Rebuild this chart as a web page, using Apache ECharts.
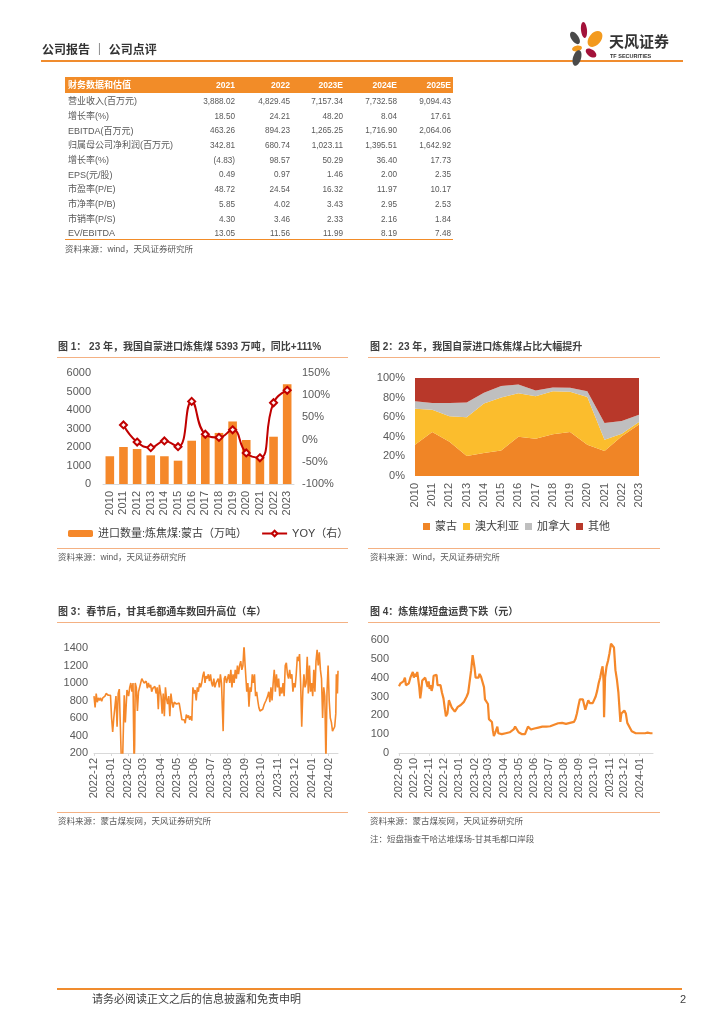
<!DOCTYPE html>
<html><head><meta charset="utf-8">
<script src="https://cdn.jsdelivr.net/npm/echarts@6/dist/echarts.min.js"></script>
<style>html,body{margin:0;padding:0;background:#fff}#c{width:724px;height:1024px}</style>
</head><body><div id="c"></div><script>
// ---------- DATA ----------
const tableYears = ['2021','2022','2023E','2024E','2025E'];
const tableLabels = ['营业收入(百万元)','增长率(%)','EBITDA(百万元)','归属母公司净利润(百万元)','增长率(%)','EPS(元/股)','市盈率(P/E)','市净率(P/B)','市销率(P/S)','EV/EBITDA'];
const rowRevenue = ['3,888.02','4,829.45','7,157.34','7,732.58','9,094.43'];
const rowRevGrowth = ['18.50','24.21','48.20','8.04','17.61'];
const rowEbitda = ['463.26','894.23','1,265.25','1,716.90','2,064.06'];
const rowNetProfit = ['342.81','680.74','1,023.11','1,395.51','1,642.92'];
const rowNpGrowth = ['(4.83)','98.57','50.29','36.40','17.73'];
const rowEps = ['0.49','0.97','1.46','2.00','2.35'];
const rowPE = ['48.72','24.54','16.32','11.97','10.17'];
const rowPB = ['5.85','4.02','3.43','2.95','2.53'];
const rowPS = ['4.30','3.46','2.33','2.16','1.84'];
const rowEvEbitda = ['13.05','11.56','11.99','8.19','7.48'];

const years = ['2010','2011','2012','2013','2014','2015','2016','2017','2018','2019','2020','2021','2022','2023'];
const importVolume = [1500,2000,1890,1550,1500,1260,2340,2620,2760,3380,2380,1400,2556,5393];
const importYoy = [null,33,-5.5,-18,-3,-16,86,12,5,22,-30,-41,83,111];

const shareMongolia = [32,45,35,20.5,23.5,26,40,38,42.5,45,32,25.5,40.5,52.5];
const shareAustralia = [36.5,22.5,26,39.5,50.5,54,44.5,43.5,44,41,48.5,11.5,2.7,2.6];
const shareCanada = [7.8,7.1,13.6,14.9,11,11.8,8.8,5.8,3.7,4.1,6.1,17,12.8,7.5];
const shareOther = [23.7,25.4,25.4,25.1,15,8.2,6.7,12.7,9.8,9.9,13.4,46,44,37.4];

const gqmdTrucks = [
['2022-12-01',850],['2022-12-03',720],['2022-12-05',880],['2022-12-07',780],['2022-12-09',830],['2022-12-11',800],['2022-12-13',830],['2022-12-15',790],['2022-12-17',830],['2022-12-19',810],['2022-12-21',850],['2022-12-23',880],['2022-12-25',870],['2022-12-27',860],['2022-12-29',850],['2022-12-31',860],
['2023-01-02',600],['2023-01-04',440],['2023-01-06',600],['2023-01-08',580],['2023-01-10',850],['2023-01-12',500],['2023-01-14',880],['2023-01-16',930],['2023-01-18',500],['2023-01-20',60],['2023-01-22',100],['2023-01-25',860],['2023-01-27',550],['2023-01-30',920],
['2023-02-02',850],['2023-02-04',950],['2023-02-06',1000],['2023-02-08',900],['2023-02-10',1000],['2023-02-11',500],['2023-02-12',50],['2023-02-13',300],['2023-02-14',1000],['2023-02-16',950],['2023-02-18',680],['2023-02-20',900],['2023-02-22',950],['2023-02-24',1000],['2023-02-26',1050],['2023-02-28',1060],
['2023-03-02',1000],['2023-03-04',980],['2023-03-06',1020],['2023-03-08',940],['2023-03-10',1000],['2023-03-12',950],['2023-03-14',980],['2023-03-16',900],['2023-03-18',940],['2023-03-20',920],['2023-03-22',960],['2023-03-24',880],['2023-03-26',950],['2023-03-28',700],['2023-03-30',980],
['2023-04-02',850],['2023-04-04',650],['2023-04-06',880],['2023-04-08',620],['2023-04-10',950],['2023-04-12',820],['2023-04-14',760],['2023-04-16',850],['2023-04-18',620],['2023-04-20',880],['2023-04-22',780],['2023-04-24',720],['2023-04-26',780],['2023-04-28',770],['2023-04-30',760],
['2023-05-02',780],['2023-05-05',770],['2023-05-08',760],['2023-05-10',580],['2023-05-12',560],['2023-05-14',580],['2023-05-16',540],['2023-05-18',640],['2023-05-20',600],['2023-05-22',630],['2023-05-24',580],['2023-05-26',620],['2023-05-28',570],['2023-05-30',950],
['2023-06-01',880],['2023-06-03',920],['2023-06-05',800],['2023-06-07',950],['2023-06-09',900],['2023-06-11',1000],['2023-06-13',950],['2023-06-15',1000],['2023-06-17',1080],['2023-06-19',1130],['2023-06-21',1000],['2023-06-23',1080],['2023-06-25',1050],['2023-06-27',1100],['2023-06-29',1020],
['2023-07-01',1100],['2023-07-03',1000],['2023-07-05',960],['2023-07-07',1050],['2023-07-09',950],['2023-07-11',1000],['2023-07-13',980],['2023-07-15',1050],['2023-07-17',950],['2023-07-19',1100],['2023-07-21',1000],['2023-07-23',1000],['2023-07-24',450],['2023-07-26',1050],['2023-07-28',1080],['2023-07-30',1000],
['2023-08-01',1000],['2023-08-03',1100],['2023-08-05',1000],['2023-08-07',1150],['2023-08-09',950],['2023-08-11',1100],['2023-08-13',1000],['2023-08-15',1150],['2023-08-17',1050],['2023-08-19',1200],['2023-08-21',1100],['2023-08-23',1200],['2023-08-25',1250],['2023-08-27',1150],['2023-08-29',1200],['2023-08-31',1430],
['2023-09-02',1200],['2023-09-04',1000],['2023-09-05',900],['2023-09-07',1000],['2023-09-09',730],['2023-09-11',950],['2023-09-13',900],['2023-09-15',1100],['2023-09-17',1000],['2023-09-19',1100],['2023-09-21',850],['2023-09-23',900],['2023-09-25',800],['2023-09-27',720],['2023-09-29',680],
['2023-10-01',660],['2023-10-04',700],['2023-10-07',760],['2023-10-10',800],['2023-10-13',850],['2023-10-15',900],['2023-10-17',780],['2023-10-19',950],['2023-10-21',800],['2023-10-23',1000],['2023-10-25',1150],['2023-10-27',900],['2023-10-29',1100],['2023-10-31',950],
['2023-11-02',1050],['2023-11-04',850],['2023-11-06',950],['2023-11-08',880],['2023-11-10',1000],['2023-11-12',850],['2023-11-14',1200],['2023-11-16',1230],['2023-11-18',1100],['2023-11-20',1050],['2023-11-22',1150],['2023-11-24',1050],['2023-11-26',1100],['2023-11-28',900],['2023-11-30',1000],
['2023-12-02',950],['2023-12-04',1100],['2023-12-06',1300],['2023-12-08',1250],['2023-12-10',1330],['2023-12-12',1000],['2023-12-14',500],['2023-12-16',900],['2023-12-18',1100],['2023-12-20',950],['2023-12-22',1000],['2023-12-24',1300],['2023-12-26',880],['2023-12-28',1200],['2023-12-30',900],
['2024-01-01',1000],['2024-01-03',850],['2024-01-05',1150],['2024-01-07',900],['2024-01-09',1250],['2024-01-11',1380],['2024-01-13',1200],['2024-01-15',1350],['2024-01-17',1150],['2024-01-19',1050],['2024-01-21',600],['2024-01-23',950],['2024-01-25',850],['2024-01-27',100],['2024-01-29',900],['2024-01-31',1200],
['2024-02-02',800],['2024-02-04',600],['2024-02-06',550],['2024-02-08',450],['2024-02-10',430],['2024-02-12',500],['2024-02-14',650],['2024-02-15',1100],['2024-02-17',880],['2024-02-18',1140]
];

const shortHaulFreight = [
['2022-09-01',355],['2022-09-04',370],['2022-09-07',365],['2022-09-10',380],['2022-09-13',400],['2022-09-15',360],['2022-09-18',350],['2022-09-21',370],['2022-09-24',400],['2022-09-27',395],['2022-09-29',430],
['2022-10-01',400],['2022-10-03',420],['2022-10-05',405],['2022-10-08',430],['2022-10-10',420],['2022-10-12',350],['2022-10-14',290],['2022-10-16',330],['2022-10-18',385],['2022-10-21',395],['2022-10-24',400],['2022-10-27',395],['2022-10-29',350],['2022-10-31',380],
['2022-11-02',340],['2022-11-04',360],['2022-11-06',330],['2022-11-08',350],['2022-11-10',410],['2022-11-13',420],['2022-11-16',415],['2022-11-18',360],['2022-11-21',350],['2022-11-24',360],['2022-11-27',320],['2022-11-30',290],
['2022-12-03',230],['2022-12-05',195],['2022-12-08',210],['2022-12-11',280],['2022-12-14',280],['2022-12-17',240],['2022-12-20',230],['2022-12-23',220],['2022-12-26',230],['2022-12-29',245],
['2023-01-01',245],['2023-01-04',255],['2023-01-07',260],['2023-01-10',270],['2023-01-13',265],['2023-01-16',300],['2023-01-19',320],['2023-01-22',330],['2023-01-25',440],['2023-01-28',520],['2023-01-30',525],
['2023-02-01',450],['2023-02-03',400],['2023-02-05',390],['2023-02-07',410],['2023-02-09',400],['2023-02-11',420],['2023-02-14',405],['2023-02-17',410],['2023-02-20',350],['2023-02-22',285],['2023-02-25',280],['2023-02-28',260],
['2023-03-02',180],['2023-03-05',170],['2023-03-08',165],['2023-03-10',120],['2023-03-12',90],['2023-03-15',110],['2023-03-17',120],['2023-03-19',140],['2023-03-21',105],['2023-03-24',100],['2023-03-28',100],
['2023-04-01',100],['2023-04-05',105],['2023-04-09',108],['2023-04-13',110],['2023-04-17',115],['2023-04-21',125],['2023-04-24',140],['2023-04-27',130],
['2023-05-01',110],['2023-05-04',105],['2023-05-08',100],['2023-05-11',95],['2023-05-14',100],['2023-05-17',110],['2023-05-20',140],['2023-05-23',135],['2023-05-26',125],['2023-05-29',130],
['2023-06-02',130],['2023-06-06',128],['2023-06-10',135],['2023-06-14',135],['2023-06-18',140],['2023-06-22',140],['2023-06-26',140],['2023-06-30',140],
['2023-07-04',142],['2023-07-08',145],['2023-07-12',150],['2023-07-16',155],['2023-07-20',158],['2023-07-24',160],['2023-07-28',160],
['2023-08-01',158],['2023-08-05',155],['2023-08-09',158],['2023-08-13',160],['2023-08-17',162],['2023-08-21',165],['2023-08-24',180],['2023-08-27',210],['2023-08-30',250],
['2023-09-02',285],['2023-09-05',285],['2023-09-08',285],['2023-09-11',280],['2023-09-13',230],['2023-09-15',240],['2023-09-17',220],['2023-09-19',280],['2023-09-22',265],['2023-09-25',260],['2023-09-28',265],
['2023-10-01',275],['2023-10-04',300],['2023-10-07',330],['2023-10-10',370],['2023-10-13',400],['2023-10-16',440],['2023-10-18',460],['2023-10-20',380],['2023-10-21',190],['2023-10-23',400],['2023-10-26',460],['2023-10-29',490],
['2023-11-01',530],['2023-11-04',580],['2023-11-07',575],['2023-11-10',560],['2023-11-13',440],['2023-11-16',390],['2023-11-19',320],['2023-11-21',310],['2023-11-23',165],['2023-11-25',210],['2023-11-28',215],
['2023-12-01',225],['2023-12-04',210],['2023-12-07',160],['2023-12-10',150],['2023-12-13',130],['2023-12-16',115],['2023-12-20',108],['2023-12-24',105],['2023-12-28',105],
['2024-01-02',105],['2024-01-07',105],['2024-01-12',105],['2024-01-17',108],['2024-01-20',110],['2024-01-23',105],['2024-01-27',105]
];

// ---------- STYLE ----------
const FONT = "'Liberation Sans','Noto Sans CJK SC',sans-serif";
const TXT = '#404040';
const AX = '#595959';
const ORANGE = '#F5882A';
const SEP = '#F4B183';
const DAY = 86400000;

function T(x, y, text, size, color, opt) {
  opt = opt || {};
  const align = opt.align || 'left';
  return { type: 'text', x: x, y: y, silent: true,
    style: { text: text, fill: color, font: (opt.bold ? 'bold ' : '') + size + 'px ' + FONT,
      align: align, verticalAlign: 'middle', textAlign: align, textVerticalAlign: 'middle' } };
}
function L(x1, y1, x2, y2, color, w) {
  return { type: 'line', silent: true, shape: { x1: x1, y1: y1, x2: x2, y2: y2 }, style: { stroke: color, lineWidth: w } };
}
function E(cx, cy, rx, ry, rot, color) {
  return { type: 'ellipse', x: cx, y: cy, rotation: rot, silent: true, shape: { cx: 0, cy: 0, rx: rx, ry: ry }, style: { fill: color } };
}

const g = [];
// page header
g.push(T(42, 51, '公司报告 ｜ 公司点评', 12, '#333', { bold: true }));
g.push(L(41, 61, 683, 61, '#F08C2E', 2));
g.push(E(575, 38, 3.6, 7, 0.6, '#4A4A4A'));
g.push(E(584, 30, 3, 8, 0.1, '#A3123A'));
g.push(E(595, 39, 6, 9, -0.7, '#F39A1E'));
g.push(E(577, 48.5, 5, 2.8, 0.2, '#F39A1E'));
g.push(E(591, 53, 6, 3.5, -0.6, '#A3123A'));
g.push(E(577, 58, 4, 8, -0.3, '#4A4A4A'));
g.push(T(609, 43, '天风证券', 15, '#333', { bold: true }));
g.push(T(610, 56, 'TF SECURITIES', 5.5, '#333', { bold: true }));

// table
const tableRows = [rowRevenue,rowRevGrowth,rowEbitda,rowNetProfit,rowNpGrowth,rowEps,rowPE,rowPB,rowPS,rowEvEbitda];
const colRight = [235, 290, 343, 397, 451];
g.push({ type: 'rect', silent: true, shape: { x: 65, y: 77, width: 388, height: 16 }, style: { fill: '#F28C28' } });
g.push(T(68, 85.5, '财务数据和估值', 9, '#fff', { bold: true }));
tableYears.forEach((yr, j) => g.push(T(colRight[j], 85.5, yr, 8.5, '#fff', { bold: true, align: 'right' })));
tableLabels.forEach((lab, i) => {
  const y = 101.7 + i * 14.7;
  g.push(T(68, y, lab, 9, '#595959'));
  tableRows[i].forEach((v, j) => g.push(T(colRight[j], y, v, 8.2, '#595959', { align: 'right' })));
});
g.push(L(65, 239.5, 453, 239.5, '#F28C28', 1));
g.push(T(65, 250, '资料来源：wind，天风证券研究所', 8.5, '#595959'));

// chart frames
g.push(T(58, 347, '图 1： 23 年，我国自蒙进口炼焦煤 5393 万吨，同比+111%', 10, TXT, { bold: true }));
g.push(L(57, 357.5, 348, 357.5, SEP, 1));
g.push(L(57, 548.5, 348, 548.5, SEP, 1));
g.push(T(58, 558, '资料来源：wind，天风证券研究所', 8.5, '#595959'));

g.push(T(370, 347, '图 2：23 年，我国自蒙进口炼焦煤占比大幅提升', 10, TXT, { bold: true }));
g.push(L(368, 357.5, 660, 357.5, SEP, 1));
g.push(L(368, 548.5, 660, 548.5, SEP, 1));
g.push(T(370, 558, '资料来源：Wind，天风证券研究所', 8.5, '#595959'));

g.push(T(58, 612, '图 3：春节后，甘其毛都通车数回升高位（车）', 10, TXT, { bold: true }));
g.push(L(57, 622.5, 348, 622.5, SEP, 1));
g.push(L(57, 812.5, 348, 812.5, SEP, 1));
g.push(T(58, 822, '资料来源：蒙古煤炭网，天风证券研究所', 8.5, '#595959'));

g.push(T(370, 612, '图 4：炼焦煤短盘运费下跌（元）', 10, TXT, { bold: true }));
g.push(L(368, 622.5, 660, 622.5, SEP, 1));
g.push(L(368, 812.5, 660, 812.5, SEP, 1));
g.push(T(370, 822, '资料来源：蒙古煤炭网，天风证券研究所', 8.5, '#595959'));
g.push(T(370, 840, '注：短盘指查干哈达堆煤场-甘其毛都口岸段', 8.5, '#595959'));

// footer
g.push(L(57, 989, 682, 989, '#F08C2E', 2));
g.push(T(92, 1000, '请务必阅读正文之后的信息披露和免责申明', 11, TXT));
g.push(T(686, 1000, '2', 11, TXT, { align: 'right' }));

const lbl = { fontFamily: FONT, fontSize: 11, color: AX };
const noSplit = { show: false };
const plain = v => String(v);

const option = {
  animation: false,
  backgroundColor: '#fff',
  textStyle: { fontFamily: FONT },
  grid: [
    { left: 103, top: 373, width: 191, height: 111, containLabel: false, outerBoundsMode: 'none' },
    { left: 415, top: 378, width: 224, height: 98, containLabel: false, outerBoundsMode: 'none' },
    { left: 94, top: 648, width: 244, height: 105, containLabel: false, outerBoundsMode: 'none' },
    { left: 399, top: 640, width: 254, height: 113, containLabel: false, outerBoundsMode: 'none' }
  ],
  legend: [
    { left: 68, top: 528, itemWidth: 25, itemHeight: 7, itemGap: 14, padding: 0,
      textStyle: { fontFamily: FONT, fontSize: 11, color: TXT },
      data: ['进口数量:炼焦煤:蒙古（万吨）', 'YOY（右）'] },
    { left: 423, top: 521, itemWidth: 7, itemHeight: 7, itemGap: 6, padding: 0, icon: 'rect',
      textStyle: { fontFamily: FONT, fontSize: 11, color: TXT },
      data: ['蒙古', '澳大利亚', '加拿大', '其他'] }
  ],
  xAxis: [
    { type: 'category', gridIndex: 0, data: years,
      axisLine: { lineStyle: { color: '#D9D9D9' } }, axisTick: { show: false },
      axisLabel: Object.assign({ rotate: 90, margin: 7, interval: 0 }, lbl), splitLine: noSplit },
    { type: 'category', gridIndex: 1, data: years, boundaryGap: false,
      axisLine: { show: false }, axisTick: { show: false },
      axisLabel: Object.assign({ rotate: 90, margin: 7, interval: 0 }, lbl), splitLine: noSplit },
    { type: 'time', gridIndex: 2, min: '2022-12-01', max: '2024-02-18', splitNumber: 15,
      minInterval: 28 * DAY, maxInterval: 31 * DAY,
      axisLine: { lineStyle: { color: '#D9D9D9' } }, axisTick: { show: true, length: 3, lineStyle: { color: '#D9D9D9' } },
      axisLabel: Object.assign({ rotate: 90, margin: 5, formatter: '{yyyy}-{MM}', hideOverlap: false, showMaxLabel: false }, lbl),
      splitLine: noSplit, minorTick: { show: false } },
    { type: 'time', gridIndex: 3, min: '2022-09-01', max: '2024-01-28', splitNumber: 17,
      minInterval: 28 * DAY, maxInterval: 31 * DAY,
      axisLine: { lineStyle: { color: '#D9D9D9' } }, axisTick: { show: true, length: 3, lineStyle: { color: '#D9D9D9' } },
      axisLabel: Object.assign({ rotate: 90, margin: 5, formatter: '{yyyy}-{MM}', hideOverlap: false, showMaxLabel: false }, lbl),
      splitLine: noSplit, minorTick: { show: false } }
  ],
  yAxis: [
    { type: 'value', gridIndex: 0, min: 0, max: 6000, interval: 1000, splitLine: noSplit,
      axisLine: { show: false }, axisTick: { show: false }, axisLabel: Object.assign({ margin: 12, formatter: plain }, lbl) },
    { type: 'value', gridIndex: 0, position: 'right', min: -100, max: 150, interval: 50, splitLine: noSplit,
      axisLine: { show: false }, axisTick: { show: false }, axisLabel: Object.assign({ margin: 8, formatter: '{value}%' }, lbl) },
    { type: 'value', gridIndex: 1, min: 0, max: 100, interval: 20, splitLine: noSplit,
      axisLine: { show: false }, axisTick: { show: false }, axisLabel: Object.assign({ margin: 10, formatter: '{value}%' }, lbl) },
    { type: 'value', gridIndex: 2, min: 200, max: 1400, interval: 200, splitLine: noSplit,
      axisLine: { show: false }, axisTick: { show: false }, axisLabel: Object.assign({ margin: 6, formatter: plain }, lbl) },
    { type: 'value', gridIndex: 3, min: 0, max: 600, interval: 100, splitLine: noSplit,
      axisLine: { show: false }, axisTick: { show: false }, axisLabel: Object.assign({ margin: 10, formatter: plain }, lbl) }
  ],
  series: [
    { name: '进口数量:炼焦煤:蒙古（万吨）', type: 'bar', xAxisIndex: 0, yAxisIndex: 0, data: importVolume,
      barWidth: '63%', itemStyle: { color: ORANGE } },
    { name: 'YOY（右）', type: 'line', xAxisIndex: 0, yAxisIndex: 1, data: importYoy, smooth: true,
      symbol: 'diamond', symbolSize: 7,
      lineStyle: { color: '#C00000', width: 2 },
      itemStyle: { color: '#FFF2F2', borderColor: '#C00000', borderWidth: 2 } },
    { name: '蒙古', type: 'line', xAxisIndex: 1, yAxisIndex: 2, stack: 'share', data: shareMongolia,
      symbol: 'none', lineStyle: { width: 0 }, areaStyle: { color: '#F08526', opacity: 1 }, itemStyle: { color: '#F08526' } },
    { name: '澳大利亚', type: 'line', xAxisIndex: 1, yAxisIndex: 2, stack: 'share', data: shareAustralia,
      symbol: 'none', lineStyle: { width: 0 }, areaStyle: { color: '#FBBD2D', opacity: 1 }, itemStyle: { color: '#FBBD2D' } },
    { name: '加拿大', type: 'line', xAxisIndex: 1, yAxisIndex: 2, stack: 'share', data: shareCanada,
      symbol: 'none', lineStyle: { width: 0 }, areaStyle: { color: '#BFBFBF', opacity: 1 }, itemStyle: { color: '#BFBFBF' } },
    { name: '其他', type: 'line', xAxisIndex: 1, yAxisIndex: 2, stack: 'share', data: shareOther,
      symbol: 'none', lineStyle: { width: 0 }, areaStyle: { color: '#B8382A', opacity: 1 }, itemStyle: { color: '#B8382A' } },
    { name: '甘其毛都通车数', type: 'line', xAxisIndex: 2, yAxisIndex: 3, data: gqmdTrucks,
      symbol: 'none', clip: true, lineStyle: { color: ORANGE, width: 1.6 }, itemStyle: { color: ORANGE } },
    { name: '短盘运费', type: 'line', xAxisIndex: 3, yAxisIndex: 4, data: shortHaulFreight,
      symbol: 'none', lineStyle: { color: ORANGE, width: 2.2 }, itemStyle: { color: ORANGE } }
  ],
  graphic: { elements: g }
};

const chart = echarts.init(document.getElementById('c'), null, { renderer: 'canvas' });
chart.setOption(option);
</script></body></html>
